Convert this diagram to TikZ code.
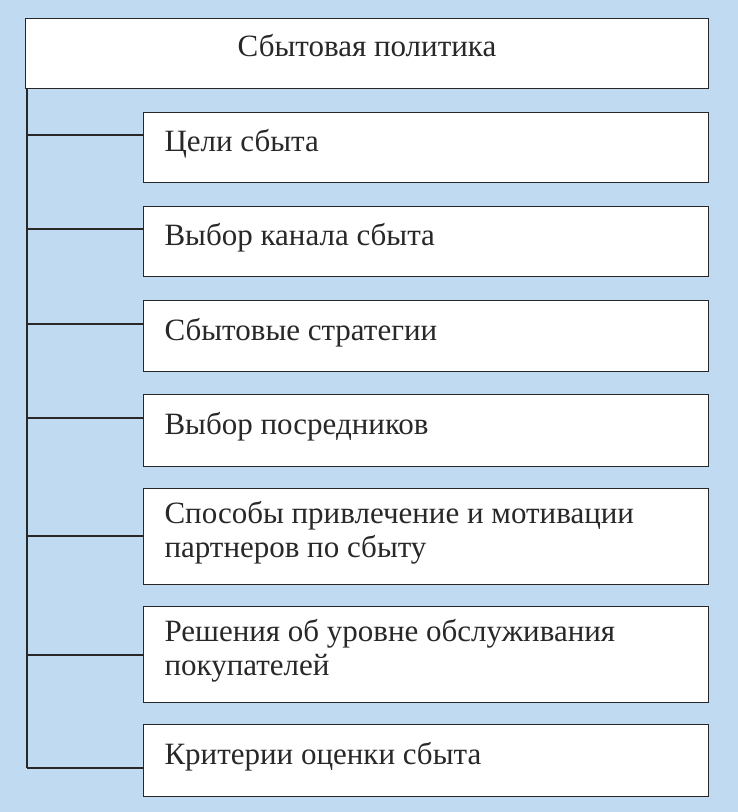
\documentclass[tikz,border=0pt]{standalone}
\usepackage{fontspec}
\setmainfont{Liberation Serif}
\definecolor{bg}{RGB}{192,218,242}
\definecolor{ln}{RGB}{40,40,40}
\begin{document}
\begin{tikzpicture}[x=1pt,y=-1pt,
  box/.style={draw=ln,line width=1.2pt,fill=white,anchor=north west,inner sep=0pt},
  lab/.style={anchor=west,align=left,font=\fontsize{31}{34}\selectfont,text=ln},
  conn/.style={draw=ln,line width=1.2pt}]
\fill[bg] (0,0) rectangle (738,812);
\useasboundingbox (0,0) rectangle (738,812);
\node[box,minimum width=683pt,minimum height=70pt] (top) at (25,18) {};
\node[font=\fontsize{31}{34}\selectfont,text=ln] (toplab) at (367,46) {Сбытовая политика};
\foreach \n/\y/\h/\t/\ly in {
 1/112/70/{Цели сбыта}/135,
 2/206/70/{Выбор канала сбыта}/229,
 3/300/71/{Сбытовые стратегии}/324,
 4/394/72/{Выбор посредников}/418,
 5/488/96/{Способы привлечение и мотивации\\партнеров по сбыту}/536,
 6/606/96/{Решения об уровне обслуживания\\покупателей}/655,
 7/724/72/{Критерии оценки сбыта}/768}{
  \node[box,minimum width=565pt,minimum height=\h pt] (b\n) at (143,\y) {};
  \node[lab] (t\n) at (161,\y+\h/2-3) {\t};
  \coordinate (c\n) at (27,\ly);
  \draw[conn] (c\n) -- (c\n -| b\n.west);
}
\draw[conn] (27,88) -- (c7);
\end{tikzpicture}
\end{document}
